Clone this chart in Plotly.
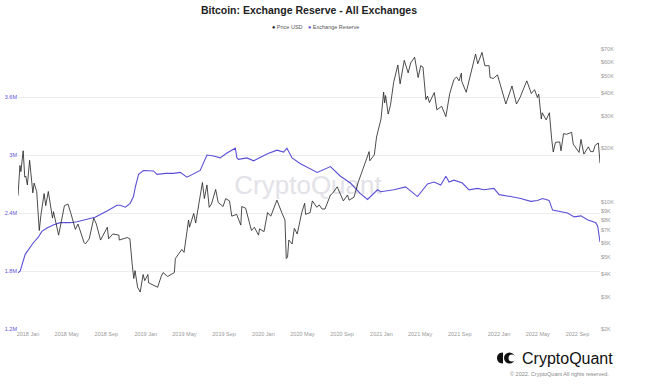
import math
import plotly.graph_objects as go

# ---------------- data ----------------
reserve_dates = [
    "2017-12-01", "2017-12-08", "2017-12-23", "2018-01-02", "2018-01-17", "2018-02-02", "2018-02-13",
    "2018-03-01", "2018-03-20", "2018-04-11", "2018-05-12", "2018-06-02", "2018-07-03", "2018-07-28",
    "2018-09-03", "2018-10-04", "2018-10-14", "2018-10-30", "2018-11-14", "2018-11-24", "2018-11-30",
    "2018-12-10", "2018-12-25", "2019-01-25", "2019-02-05", "2019-03-03", "2019-03-28", "2019-04-18",
    "2019-05-09", "2019-05-30", "2019-06-19", "2019-07-10", "2019-07-31", "2019-08-20", "2019-09-10",
    "2019-10-06", "2019-10-11", "2019-10-16", "2019-11-11", "2019-12-02", "2019-12-23", "2020-01-12",
    "2020-02-12", "2020-03-04", "2020-03-14", "2020-03-30", "2020-04-25", "2020-05-26", "2020-06-16",
    "2020-07-27", "2020-08-27", "2020-09-27", "2020-10-28", "2020-11-19", "2020-12-20", "2020-12-30",
    "2021-02-09", "2021-03-17", "2021-04-23", "2021-05-24", "2021-06-13", "2021-07-04", "2021-07-20",
    "2021-07-30", "2021-08-14", "2021-09-09", "2021-09-30", "2021-10-26", "2021-11-15", "2021-12-16",
    "2022-01-01", "2022-02-06", "2022-03-09", "2022-04-09", "2022-04-30", "2022-05-16", "2022-06-05",
    "2022-06-16", "2022-07-11", "2022-08-01", "2022-08-22", "2022-09-12", "2022-10-02", "2022-10-28",
    "2022-11-03", "2022-11-10",
]
reserve_values = [
    1.78, 1.80, 1.97, 2.02, 2.09, 2.15, 2.21,
    2.245, 2.276, 2.30, 2.30, 2.31, 2.335, 2.355,
    2.42, 2.48, 2.48, 2.46, 2.50, 2.57, 2.67,
    2.80, 2.84, 2.835, 2.80, 2.81, 2.81, 2.82,
    2.77, 2.81, 2.84, 3.00, 2.99, 2.97, 3.02,
    3.07, 2.97, 2.955, 2.97, 2.94, 2.98, 3.01,
    3.05, 3.03, 3.07, 2.97, 2.91, 2.86, 2.82,
    2.88, 2.78, 2.71, 2.60, 2.54, 2.64, 2.62,
    2.64, 2.67, 2.57, 2.70, 2.72, 2.69, 2.78,
    2.72, 2.74, 2.71, 2.64, 2.655, 2.64, 2.655,
    2.59, 2.57, 2.55, 2.52, 2.53, 2.55, 2.53,
    2.43, 2.41, 2.40, 2.36, 2.37, 2.33, 2.30,
    2.26, 2.10,
]
reserve_values = [v * 1e6 for v in reserve_values]

price_dates = [
    "2017-12-01", "2017-12-07", "2017-12-10", "2017-12-17", "2017-12-22", "2017-12-25", "2017-12-30",
    "2018-01-06", "2018-01-10", "2018-01-16", "2018-01-20", "2018-01-28", "2018-02-05", "2018-02-10",
    "2018-02-20", "2018-02-25", "2018-03-05", "2018-03-18", "2018-03-21", "2018-04-06", "2018-04-24",
    "2018-05-05", "2018-05-14", "2018-05-28", "2018-06-05", "2018-06-24", "2018-06-28", "2018-07-10",
    "2018-07-24", "2018-08-01", "2018-08-14", "2018-08-20", "2018-09-04", "2018-09-08", "2018-09-21",
    "2018-10-10", "2018-10-11", "2018-11-05", "2018-11-13", "2018-11-20", "2018-11-25", "2018-11-29",
    "2018-12-07", "2018-12-15", "2018-12-24", "2018-12-29", "2019-01-08", "2019-01-10", "2019-01-28",
    "2019-02-07", "2019-02-18", "2019-02-24", "2019-03-10", "2019-03-31", "2019-04-03", "2019-04-23",
    "2019-04-30", "2019-05-14", "2019-05-17", "2019-05-30", "2019-06-05", "2019-06-26", "2019-07-02",
    "2019-07-10", "2019-07-17", "2019-07-24", "2019-08-06", "2019-08-14", "2019-08-29", "2019-09-06",
    "2019-09-18", "2019-09-25", "2019-10-10", "2019-10-23", "2019-10-26", "2019-11-07", "2019-11-25",
    "2019-12-04", "2019-12-17", "2019-12-20", "2020-01-03", "2020-01-14", "2020-01-24", "2020-02-12",
    "2020-02-28", "2020-03-08", "2020-03-12", "2020-03-16", "2020-03-20", "2020-03-30", "2020-04-06",
    "2020-04-15", "2020-04-29", "2020-05-08", "2020-05-11", "2020-05-25", "2020-06-01", "2020-06-15",
    "2020-06-22", "2020-07-01", "2020-07-10", "2020-07-27", "2020-08-02", "2020-08-17", "2020-09-05",
    "2020-09-18", "2020-09-23", "2020-10-08", "2020-10-21", "2020-11-05", "2020-11-24", "2020-11-26",
    "2020-12-10", "2020-12-17", "2020-12-31", "2021-01-08", "2021-01-11", "2021-01-14", "2021-01-22",
    "2021-01-29", "2021-02-08", "2021-02-21", "2021-02-28", "2021-03-13", "2021-03-25", "2021-04-02",
    "2021-04-14", "2021-04-25", "2021-05-03", "2021-05-10", "2021-05-19", "2021-05-24", "2021-05-30",
    "2021-06-14", "2021-06-22", "2021-07-07", "2021-07-20", "2021-08-01", "2021-08-14", "2021-08-22",
    "2021-08-30", "2021-09-06", "2021-09-07", "2021-09-21", "2021-10-01", "2021-10-08", "2021-10-20",
    "2021-10-27", "2021-11-09", "2021-11-18", "2021-12-01", "2021-12-04", "2021-12-14", "2021-12-27",
    "2022-01-10", "2022-01-22", "2022-02-10", "2022-02-24", "2022-03-07", "2022-03-28", "2022-04-11",
    "2022-04-21", "2022-04-30", "2022-05-04", "2022-05-12", "2022-05-15", "2022-05-27", "2022-06-06",
    "2022-06-13", "2022-06-18", "2022-06-25", "2022-07-08", "2022-07-12", "2022-07-20", "2022-07-29",
    "2022-08-14", "2022-08-19", "2022-08-28", "2022-09-06", "2022-09-12", "2022-09-21", "2022-10-05",
    "2022-10-12", "2022-10-20", "2022-10-26", "2022-11-05", "2022-11-08", "2022-11-10",
]
price_values = [
    10900, 16000, 14800, 19300, 13800, 14000, 12500,
    17100, 14500, 11300, 12800, 11500, 7000, 8500,
    11200, 9600, 11500, 8200, 8900, 6600, 9600,
    9800, 8700, 7100, 7600, 6000, 5900, 6300,
    8200, 7600, 6200, 6500, 7300, 6300, 6700,
    6600, 6200, 6400, 6300, 4600, 3800, 4200,
    3400, 3200, 4000, 3700, 4000, 3600, 3450,
    3400, 3900, 4100, 3900, 4100, 4900, 5500,
    5300, 8000, 7300, 8700, 7700, 12900, 10500,
    12500, 9400, 9800, 11800, 10000, 9500, 10500,
    10200, 8400, 8600, 7500, 9500, 9300, 7000,
    7300, 6600, 7150, 6900, 8800, 8400, 10300,
    8700, 8000, 4900, 5000, 6200, 5900, 7200,
    6700, 8800, 9900, 8600, 8800, 10200, 9400,
    9700, 9200, 9200, 11000, 11200, 12200, 10200,
    11000, 10300, 10700, 12900, 15500, 19100, 17000,
    18300, 23000, 29000, 40700, 35500, 39000, 30800,
    34300, 46000, 57500, 45200, 61000, 52000, 59000,
    63500, 49000, 57000, 56000, 37000, 38700, 35600,
    40500, 32500, 34000, 29800, 40000, 47800, 49300,
    47000, 51800, 46800, 40600, 48000, 53900, 66000,
    58400, 67500, 56900, 57000, 49000, 48400, 50700,
    41800, 35000, 44000, 35000, 38000, 47000, 40000,
    42000, 38000, 39700, 28900, 31300, 28600, 31300,
    22500, 19000, 21500, 21600, 19300, 24000, 23800,
    24400, 21000, 19800, 18900, 22300, 18500, 20300,
    19100, 19100, 20700, 21300, 18500, 16500,
]

reserve_tick_values = [1.2e6, 1.8e6, 2.4e6, 3.0e6, 3.6e6]
reserve_tick_labels = ["1.2M", "1.8M", "2.4M", "3M", "3.6M"]
price_tick_values = [2000, 3000, 4000, 5000, 6000, 7000, 8000, 9000, 10000,
                     20000, 30000, 40000, 50000, 60000, 70000]
price_tick_labels = ["$2K", "$3K", "$4K", "$5K", "$6K", "$7K", "$8K", "$9K", "$10K",
                     "$20K", "$30K", "$40K", "$50K", "$60K", "$70K"]

# ---------------- styling ----------------
W, H = 660, 385
ML, MR, MT, MB = 18, 60, 39, 56
PW, PH = W - ML - MR, H - MT - MB
RES = "#5b4fd6"
PRICE = "#1f1f1f"
FONT = "Liberation Sans, Arial, sans-serif"


def px(x):
    return (x - ML) / PW


def py(y):
    return (H - MB - y) / PH


fig = go.Figure()
fig.add_trace(go.Scatter(
    x=reserve_dates, y=reserve_values, name="Exchange Reserve", mode="lines",
    line=dict(color=RES, width=1.1), yaxis="y", showlegend=False,
))
fig.add_trace(go.Scatter(
    x=price_dates, y=price_values, name="Price USD", mode="lines",
    line=dict(color=PRICE, width=0.8), yaxis="y2", showlegend=False,
))

fig.update_layout(
    width=W, height=H,
    margin=dict(l=ML, r=MR, t=MT, b=MB, autoexpand=False),
    paper_bgcolor="white", plot_bgcolor="white",
    font=dict(family=FONT),
    title=dict(
        text="<b>Bitcoin: Exchange Reserve - All Exchanges</b>",
        x=px(309), xref="paper", xanchor="center",
        y=1 - 10 / H, yref="container", yanchor="middle",
        font=dict(size=10.5, color="#222"),
    ),
    xaxis=dict(
        type="date", range=["2017-12-01", "2022-11-10"], automargin=False,
        tick0="2018-01-01", dtick="M4", tickformat="%Y %b",
        showgrid=False, zeroline=False, showline=False, ticks="",
        tickfont=dict(size=5.5, color="#999999"),
    ),
    yaxis=dict(
        range=[1.2e6, 4.2e6], tickvals=reserve_tick_values, ticktext=reserve_tick_labels,
        automargin=False,
        showgrid=True, gridcolor="#ececec", gridwidth=1, zeroline=False, showline=False,
        ticks="", tickfont=dict(size=5.5, color=RES),
    ),
    yaxis2=dict(
        overlaying="y", side="right", type="log", automargin=False,
        range=[math.log10(2000), math.log10(80000)],
        tickvals=price_tick_values, ticktext=price_tick_labels,
        showgrid=False, zeroline=False, showline=False, ticks="",
        tickfont=dict(size=5.5, color="#999999"),
    ),
    showlegend=False,
)

ann = []
# legend
ann.append(dict(text="<span style='color:#111'>●</span> Price USD", x=px(270), y=py(27),
                xref="paper", yref="paper", xanchor="left", yanchor="middle",
                showarrow=False, font=dict(size=5.5, color="#555")))
ann.append(dict(text=f"<span style='color:{RES}'>●</span> Exchange Reserve", x=px(306), y=py(27),
                xref="paper", yref="paper", xanchor="left", yanchor="middle",
                showarrow=False, font=dict(size=5.5, color="#555")))
# brand
ann.append(dict(text="CryptoQuant", x=px(520), y=py(358), xref="paper", yref="paper",
                xanchor="left", yanchor="middle", showarrow=False,
                font=dict(size=16, color="#111")))
ann.append(dict(text="© 2022. CryptoQuant All rights reserved.", x=px(611), y=py(373.5),
                xref="paper", yref="paper", xanchor="right", yanchor="middle", showarrow=False,
                font=dict(size=5.5, color="#888")))
fig.update_layout(annotations=ann)

shapes = [
    # watermark behind the lines
    dict(type="rect", xref="paper", yref="paper", layer="below",
         x0=px(228), x1=px(388), y0=py(196), y1=py(170),
         fillcolor="rgba(0,0,0,0)", line=dict(width=0),
         label=dict(text="CryptoQuant", textposition="middle center",
                    font=dict(size=26, color="#e2e2e8", family=FONT))),
    # brand icon
    dict(type="path", xref="paper", yref="paper",
         path=(f"M {px(503)} {py(352.5)} "
               f"C {px(498)} {py(352.5)} {px(497)} {py(356)} {px(497)} {py(358)} "
               f"C {px(497)} {py(360)} {px(498)} {py(363.5)} {px(503)} {py(363.5)} Z"),
         fillcolor="#111", line=dict(width=0)),
    dict(type="circle", xref="paper", yref="paper",
         x0=px(504), x1=px(515), y0=py(363.5), y1=py(352.5),
         fillcolor="#111", line=dict(width=0)),
    dict(type="circle", xref="paper", yref="paper",
         x0=px(508.5), x1=px(515.5), y0=py(361.5), y1=py(354.5),
         fillcolor="white", line=dict(width=0)),
]
fig.update_layout(shapes=shapes)

fig.write_html("out.html", config={"displayModeBar": False},
               post_script="document.body.style.margin='0';document.body.style.overflow='hidden';")
